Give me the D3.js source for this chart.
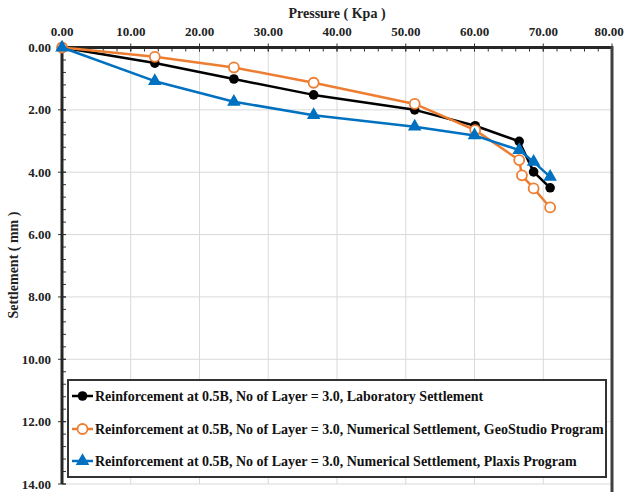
<!DOCTYPE html>
<html><head><meta charset="utf-8">
<script src="https://cdn.jsdelivr.net/npm/d3@7"></script>
<style>body{margin:0;background:#fff}svg{display:block}text{font-family:"Liberation Serif","Times New Roman",serif;font-weight:bold}</style>
</head><body><svg id="c" width="624" height="492"></svg>
<script>
const labPressure = [0, 13.5, 25.0, 36.6, 51.3, 60.1, 66.5, 68.6, 71.0];
const labSettle   = [0, 0.50, 1.01, 1.52, 2.00, 2.51, 3.01, 3.99, 4.50];
const geoPressure = [0, 13.5, 25.0, 36.6, 51.3, 60.1, 66.5, 66.9, 68.6, 71.0];
const geoSettle   = [0, 0.30, 0.64, 1.13, 1.81, 2.65, 3.61, 4.10, 4.52, 5.13];
const plxPressure = [0, 13.5, 25.0, 36.6, 51.3, 60.0, 66.5, 68.6, 71.0];
const plxSettle   = [0, 1.08, 1.74, 2.17, 2.54, 2.82, 3.29, 3.67, 4.15];
const seriesNames = [
  "Reinforcement at 0.5B, No of Layer = 3.0, Laboratory Settlement",
  "Reinforcement at 0.5B, No of Layer = 3.0, Numerical Settlement, GeoStudio Program",
  "Reinforcement at 0.5B, No of Layer = 3.0, Numerical Settlement, Plaxis Program"
];
const xTicks = [0,10,20,30,40,50,60,70,80];
const yTicks = [0,2,4,6,8,10,12,14];
const xTitle = "Pressure ( Kpa )";
const yTitle = "Settlement ( mm )";

const svg = d3.select("#c");
const L = 62, R = 612, T = 47.5, B = 484;
const x = d3.scaleLinear().domain([0,80]).range([L,R]);
const y = d3.scaleLinear().domain([0,14]).range([T,B]);

// gridlines
const g = svg.append("g");
g.selectAll(".gx").data(xTicks.slice(1)).join("line")
  .attr("x1",d=>x(d)).attr("x2",d=>x(d)).attr("y1",T).attr("y2",B)
  .attr("stroke","#d9d9d9").attr("stroke-width",1);
g.selectAll(".gy").data(yTicks.slice(1)).join("line")
  .attr("x1",L).attr("x2",R).attr("y1",d=>y(d)).attr("y2",d=>y(d))
  .attr("stroke","#d9d9d9").attr("stroke-width",1);

// minor ticks
const xMinor = d3.range(0,80.01,2);
const yMinor = d3.range(0,14.01,0.4);
svg.append("g").selectAll("line").data(xMinor).join("line")
  .attr("x1",d=>x(d)).attr("x2",d=>x(d)).attr("y1",T).attr("y2",T+4)
  .attr("stroke","#333").attr("stroke-width",1);
svg.append("g").selectAll("line").data(yMinor).join("line")
  .attr("x1",L).attr("x2",L+4).attr("y1",d=>y(d)).attr("y2",d=>y(d))
  .attr("stroke","#333").attr("stroke-width",1);
svg.append("g").selectAll("line").data(xTicks).join("line")
  .attr("x1",d=>x(d)).attr("x2",d=>x(d)).attr("y1",T-4).attr("y2",T+4)
  .attr("stroke","#333").attr("stroke-width",1);
svg.append("g").selectAll("line").data(yTicks).join("line")
  .attr("x1",L-4).attr("x2",L+4).attr("y1",d=>y(d)).attr("y2",d=>y(d))
  .attr("stroke","#333").attr("stroke-width",1);

// axis lines
svg.append("line").attr("x1",L).attr("x2",R).attr("y1",T).attr("y2",T).attr("stroke","#262626").attr("stroke-width",3);
svg.append("line").attr("x1",L).attr("x2",L).attr("y1",T).attr("y2",B).attr("stroke","#262626").attr("stroke-width",3);
svg.append("line").attr("x1",R).attr("x2",R).attr("y1",T-1.5).attr("y2",492).attr("stroke","#404040").attr("stroke-width",3);

// tick labels
svg.append("g").selectAll("text").data(xTicks).join("text")
  .attr("x",d=>Math.min(x(d), 609)).attr("y",36).attr("text-anchor","middle")
  .attr("font-size",13).attr("fill","#222").text(d=>d.toFixed(2));
svg.append("g").selectAll("text").data(yTicks).join("text")
  .attr("x",51).attr("y",d=>y(d)+4.5).attr("text-anchor","end")
  .attr("font-size",13).attr("fill","#222").text(d=>d.toFixed(2));

svg.append("text").attr("x",337).attr("y",18).attr("text-anchor","middle")
  .attr("font-size",14).attr("fill","#222").text(xTitle);
svg.append("text").attr("transform","translate(18,265) rotate(-90)").attr("text-anchor","middle")
  .attr("font-size",14).attr("fill","#222").text(yTitle);

const lg = svg.append("g");
lg.append("rect").attr("x",68).attr("y",380).attr("width",538).attr("height",97)
  .attr("fill","#fff").attr("stroke","#333").attr("stroke-width",2);

const series = [
  {p:labPressure, s:labSettle, color:"#000000", marker:"dot"},
  {p:geoPressure, s:geoSettle, color:"#ED7D31", marker:"ring"},
  {p:plxPressure, s:plxSettle, color:"#0070C0", marker:"tri"}
];
const line = d3.line().x(d=>x(d[0])).y(d=>y(d[1]));
function drawMarker(sel, m, color){
  if(m==="dot") sel.append("circle").attr("r",4.8).attr("fill",color);
  else if(m==="ring") sel.append("circle").attr("r",5).attr("fill","#fff").attr("stroke",color).attr("stroke-width",1.8);
  else sel.append("path").attr("d",d3.symbol(d3.symbolTriangle,80)()).attr("fill",color);
}
series.forEach(sr=>{
  const pts = sr.p.map((v,i)=>[v, sr.s[i]]);
  svg.append("path").datum(pts).attr("d",line).attr("fill","none")
    .attr("stroke",sr.color).attr("stroke-width",2.5).attr("stroke-linejoin","round");
  pts.forEach(pt=>{
    const gg = svg.append("g").attr("transform",`translate(${x(pt[0])},${y(pt[1])})`);
    drawMarker(gg, sr.marker, sr.color);
  });
});

const ly = [396, 429, 461];
series.forEach((sr,i)=>{
  lg.append("line").attr("x1",72).attr("x2",93).attr("y1",ly[i]).attr("y2",ly[i])
    .attr("stroke",sr.color).attr("stroke-width",2.5);
  const gg = lg.append("g").attr("transform",`translate(82.5,${ly[i]})`);
  drawMarker(gg, sr.marker, sr.color);
  lg.append("text").attr("x",95).attr("y",ly[i]+4.8).attr("font-size",14).attr("fill","#111").text(seriesNames[i]);
});
svg.node().appendChild(lg.node());
</script></body></html>
